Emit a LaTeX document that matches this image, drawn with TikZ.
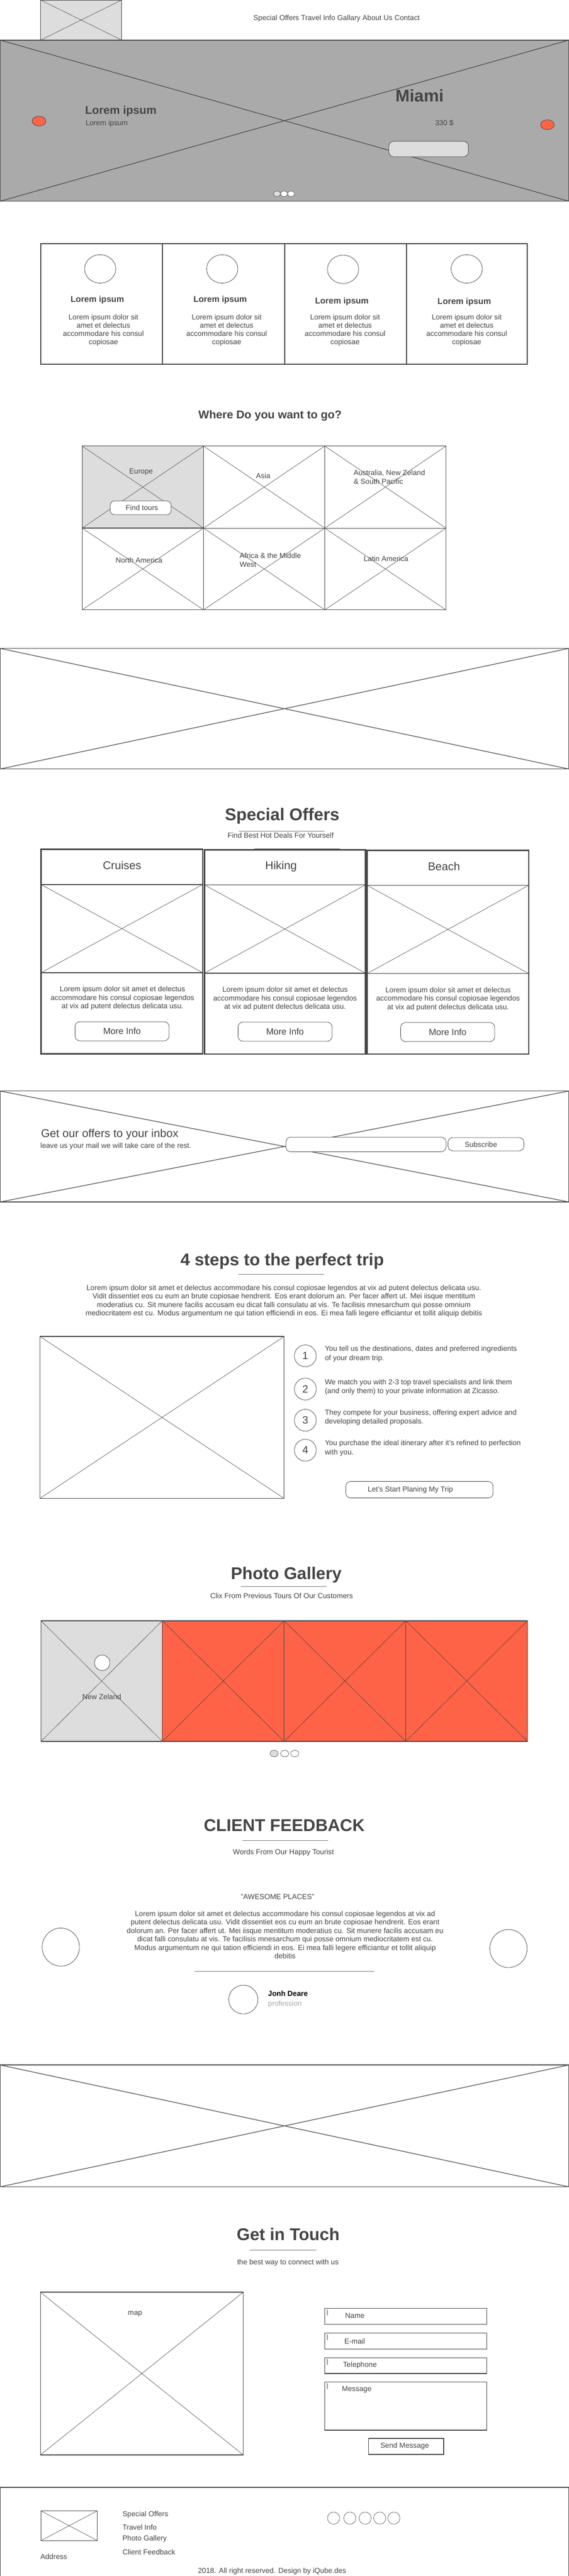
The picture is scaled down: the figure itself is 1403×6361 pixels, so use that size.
\documentclass[tikz,border=0pt]{standalone}
\usepackage{fontspec}
\setmainfont{Liberation Sans}
\definecolor{dk}{HTML}{444444}
\definecolor{lg}{HTML}{DDDDDD}
\definecolor{hg}{HTML}{AAAAAA}
\definecolor{tom}{HTML}{FF6347}
\definecolor{sepc}{HTML}{777777}
\newcommand\fs[2]{\fontsize{#1}{#2}\selectfont}
% crossed image placeholder: {rect opts}{cross opts}{x1}{y1}{x2}{y2}
\newcommand\ximg[6]{\draw[#1] (#3,#4) rectangle (#5,#6); \draw[#2] (#3,#4) -- (#5,#6) (#3,#6) -- (#5,#4);}
\tikzset{
  txt/.style={text=dk, inner sep=0pt, font=\fs{18}{21}},
  ltxt/.style={txt, anchor=west, align=left},
  ctxt/.style={txt, align=center},
  hd/.style={txt, font=\bfseries\fs{42}{50}},
  thinx/.style={draw=dk, line width=0.8pt},
  thickx/.style={draw=dk, line width=1.5pt},
  sepline/.style={draw=sepc, line width=1.2pt},
  btn/.style={draw=dk, fill=white, line width=1pt, rounded corners=12pt},
  ring/.style={draw=dk, fill=white, line width=1pt},
}
\begin{document}
\begin{tikzpicture}[x=1pt,y=-1pt]
\useasboundingbox (0,0) rectangle (1403,6361);
\fill[white] (0,0) rectangle (1403,6361);

% ---------------- header
\ximg{draw=dk, fill=lg, line width=1pt}{thinx}{100}{0}{300}{99}
\node[txt] (nav) at (830,46) {Special Offers Travel Info Gallary About Us Contact};

% ---------------- hero
\ximg{draw=dk, fill=hg, line width=2pt}{thickx}{0}{99}{1403}{497}
\draw[dk, fill=tom, line width=1pt] (96,299) ellipse [x radius=17pt, y radius=12pt];
\draw[dk, fill=tom, line width=1pt] (1350,308) ellipse [x radius=17pt, y radius=12pt];
\node[txt, anchor=west, font=\bfseries\fs{28}{34}] (herotitle) at (210,275) {Lorem ipsum};
\node[txt, anchor=west] (herosub) at (211,305) {Lorem ipsum};
\node[txt, anchor=west, font=\bfseries\fs{42}{50}] (miami) at (975,236) {Miami};
\node[txt, anchor=west] (price) at (1073,304) {330 \$};
\draw[draw=dk, fill=lg, line width=1pt, rounded corners=12pt] (959,349) rectangle (1155,387);
\draw[dk, fill=lg, line width=0.8pt] (683,478.5) ellipse [x radius=8.5pt, y radius=6.7pt];
\draw[dk, fill=white, line width=0.8pt] (700.5,478.5) ellipse [x radius=8.5pt, y radius=6.7pt];
\draw[dk, fill=white, line width=0.8pt] (718,478.5) ellipse [x radius=8.5pt, y radius=6.7pt];

% ---------------- features
\foreach \xa/\xb in {101/401, 401/702, 702/1002, 1002/1300}
  \draw[dk, line width=2.5pt] (\xa,602) rectangle (\xb,900);
\foreach \cx/\cy in {247/664, 548/664, 846/665, 1151/664}
  \draw[ring] (\cx,\cy) ellipse [x radius=38.5pt, y radius=35pt];
\node[txt, font=\bfseries\fs{21}{25}] (f1t) at (240,741) {Lorem ipsum};
\node[txt, font=\bfseries\fs{21}{25}] (f2t) at (543,741) {Lorem ipsum};
\node[txt, font=\bfseries\fs{21}{25}] (f3t) at (843,744) {Lorem ipsum};
\node[txt, font=\bfseries\fs{21}{25}] (f4t) at (1145,746) {Lorem ipsum};
\node[ctxt, font=\fs{18}{20.5}] (f1b) at (255,815) {Lorem ipsum dolor sit\\amet et delectus\\accommodare his consul\\copiosae};
\node[ctxt, font=\fs{18}{20.5}] (f2b) at (559,815) {Lorem ipsum dolor sit\\amet et delectus\\accommodare his consul\\copiosae};
\node[ctxt, font=\fs{18}{20.5}] (f3b) at (851,815) {Lorem ipsum dolor sit\\amet et delectus\\accommodare his consul\\copiosae};
\node[ctxt, font=\fs{18}{20.5}] (f4b) at (1151,815) {Lorem ipsum dolor sit\\amet et delectus\\accommodare his consul\\copiosae};

% ---------------- destinations
\node[txt, font=\bfseries\fs{28}{34}] (where) at (666,1027) {Where Do you want to go?};
\ximg{draw=dk, fill=lg, line width=1.5pt}{thinx}{202.5}{1101.5}{502}{1304}
\ximg{draw=dk, line width=1.2pt}{thinx}{502}{1101.5}{801}{1304}
\ximg{draw=dk, line width=1.2pt}{thinx}{801}{1101.5}{1100}{1304}
\ximg{draw=dk, line width=1.2pt}{thinx}{202.5}{1304}{502}{1506}
\ximg{draw=dk, line width=1.2pt}{thinx}{502}{1304}{801}{1506}
\ximg{draw=dk, line width=1.2pt}{thinx}{801}{1304}{1100}{1506}
\draw[dk, line width=2.5pt] (202.5,1304) -- (502,1304);
\node[txt] (europe) at (348,1166) {Europe};
\draw[btn, rounded corners=10pt] (272,1237) rectangle (422,1271);
\node[txt] (findtours) at (350,1254) {Find tours};
\node[txt] (asia) at (649,1175) {Asia};
\node[ltxt, font=\fs{18}{22}] (australia) at (872,1178) {Australia, New Zeland\\\& South Pacific};
\node[txt] (namerica) at (343,1384) {North America};
\node[ltxt, font=\fs{18}{21}] (africa) at (591,1382.5) {Africa \& the Middle\\West};
\node[txt] (latam) at (952,1379) {Latin America};

% ---------------- banner 2
\ximg{draw=dk, fill=white, line width=2pt}{thickx}{0}{1601}{1403}{1899}

% ---------------- special offers
\node[hd] (sotitle) at (696,2015) {Special Offers};
\draw[sepline] (589,2052) -- (800,2052);
\node[txt] (sosub) at (692,2063) {Find Best Hot Deals For Yourself};
\foreach \xa/\xb/\ya/\yh/\yi/\yb in {101/500/2097/2184/2402/2602, 504/901/2098/2185/2403/2603, 905/1304/2100/2186/2404/2603}{
  \draw[dk, line width=2pt] (\xa,\yh) -- (\xb,\yh) (\xa,\yi) -- (\xb,\yi);
  \draw[thinx] (\xa,\yh) -- (\xb,\yi) (\xa,\yi) -- (\xb,\yh);
  \draw[dk, line width=3.5pt] (\xa,\ya) rectangle (\xb,\yb);
}
\draw[sepc, line width=1.2pt] (627,2096) -- (838,2096);
\node[txt, font=\fs{28}{34}] (cruises) at (301,2137) {Cruises};
\node[txt, font=\fs{28}{34}] (hiking) at (693,2139) {Hiking};
\node[txt, font=\fs{28}{34}] (beach) at (1095,2139) {Beach};
\node[ctxt] (o1b) at (302,2465) {Lorem ipsum dolor sit amet et delectus\\accommodare his consul copiosae legendos\\at vix ad putent delectus delicata usu.};
\node[ctxt] (o2b) at (703,2466) {Lorem ipsum dolor sit amet et delectus\\accommodare his consul copiosae legendos\\at vix ad putent delectus delicata usu.};
\node[ctxt] (o3b) at (1105,2467) {Lorem ipsum dolor sit amet et delectus\\accommodare his consul copiosae legendos\\at vix ad putent delectus delicata usu.};
\draw[btn] (185,2523) rectangle (417,2570);
\draw[btn] (587,2524) rectangle (819,2571);
\draw[btn] (988,2525) rectangle (1220,2572);
\node[txt, font=\fs{22}{26}] (more1) at (301,2546.5) {More Info};
\node[txt, font=\fs{22}{26}] (more2) at (703,2547.5) {More Info};
\node[txt, font=\fs{22}{26}] (more3) at (1104,2548.5) {More Info};

% ---------------- newsletter
\ximg{draw=dk, fill=white, line width=2pt}{thickx}{0}{2694}{1403}{2968}
\node[txt, anchor=west, font=\fs{28}{34}] (nltitle) at (101,2801) {Get our offers to your inbox};
\node[txt, anchor=west] (nlsub) at (99.5,2830) {leave us your mail we will take care of the rest.};
\draw[btn] (705,2808) rectangle (1100,2844);
\draw[btn] (1105,2809) rectangle (1292,2842);
\node[txt] (subscribe) at (1186,2825.5) {Subscribe};

% ---------------- 4 steps
\node[hd] (sttitle) at (696,3114) {4 steps to the perfect trip};
\draw[sepline] (588,3147) -- (799,3147);
\node[ctxt] (stpar) at (700,3212.5) {Lorem ipsum dolor sit amet et delectus accommodare his consul copiosae legendos at vix ad putent delectus delicata usu.\\Vidit dissentiet eos cu eum an brute copiosae hendrerit. Eos erant dolorum an. Per facer affert ut. Mei iisque mentitum\\moderatius cu. Sit munere facilis accusam eu dicat falli consulatu at vis. Te facilisis mnesarchum qui posse omnium\\mediocritatem est cu. Modus argumentum ne qui tation efficiendi in eos. Ei mea falli legere efficiantur et tollit aliquip debitis};
\ximg{draw=dk, line width=1.5pt}{thinx}{98.5}{3300}{700.7}{3700}
\foreach \n/\cy in {1/3348, 2/3430, 3/3507, 4/3581}{
  \draw[ring] (753,\cy) ellipse [x radius=27pt, y radius=27pt];
  \node[txt, font=\fs{26}{30}] (num\n) at (753,\cy) {\n};
}
\node[ltxt, font=\fs{18}{22}] (step1) at (801,3343) {You tell us the destinations, dates and preferred ingredients\\of your dream trip.};
\node[ltxt, font=\fs{18}{22}] (step2) at (801,3425) {We match you with 2-3 top travel specialists and link them\\(and only them) to your private information at Zicasso.};
\node[ltxt, font=\fs{18}{22}] (step3) at (801,3500.5) {They compete for your business, offering expert advice and\\developing detailed proposals.};
\node[ltxt, font=\fs{18}{22}] (step4) at (801,3576) {You purchase the ideal itinerary after it's refined to perfection\\with you.};
\draw[btn] (853,3658) rectangle (1216,3699);
\node[txt] (plan) at (1012,3678.5) {Let's Start Planing My Trip};

% ---------------- gallery
\node[hd] (gatitle) at (706,3889.5) {Photo Gallery};
\draw[sepline] (594,3918) -- (805,3918);
\node[txt] (gasub) at (694.5,3940.5) {Clix From Previous Tours Of Our Customers};
\ximg{draw=dk, fill=lg, line width=1.2pt}{thinx}{101}{4002}{400.5}{4300}
\ximg{draw=dk, fill=tom, line width=1.2pt}{thinx}{400.5}{4002}{700.7}{4300}
\ximg{draw=dk, fill=tom, line width=1.2pt}{thinx}{700.7}{4002}{1000.8}{4300}
\ximg{draw=dk, fill=tom, line width=1.2pt}{thinx}{1000.8}{4002}{1301}{4300}
\draw[dk, line width=2pt] (101,4002) rectangle (1301,4300);
\draw[ring] (252,4106) ellipse [x radius=19pt, y radius=19pt];
\node[txt] (nz) at (251,4189.5) {New Zeland};
\draw[dk, fill=lg, line width=0.8pt] (676,4330) ellipse [x radius=10pt, y radius=8pt];
\draw[ring, line width=0.8pt] (702,4330) ellipse [x radius=10pt, y radius=8pt];
\draw[ring, line width=0.8pt] (727,4330) ellipse [x radius=10pt, y radius=8pt];

% ---------------- client feedback
\node[hd] (cftitle) at (701,4507) {CLIENT FEEDBACK};
\draw[sepline] (598,4545) -- (809,4545);
\node[txt] (cfsub) at (699,4575) {Words From Our Happy Tourist};
\node[txt] (awesome) at (684.5,4684) {"AWESOME PLACES"};
\node[ctxt, font=\fs{18}{21}] (cfpar) at (703,4777.5) {Lorem ipsum dolor sit amet et delectus accommodare his consul copiosae legendos at vix ad\\putent delectus delicata usu. Vidit dissentiet eos cu eum an brute copiosae hendrerit. Eos erant\\dolorum an. Per facer affert ut. Mei iisque mentitum moderatius cu. Sit munere facilis accusam eu\\dicat falli consulatu at vis. Te facilisis mnesarchum qui posse omnium mediocritatem est cu.\\Modus argumentum ne qui tation efficiendi in eos. Ei mea falli legere efficiantur et tollit aliquip\\debitis};
\draw[ring] (150,4808) ellipse [x radius=46pt, y radius=47pt];
\draw[ring] (1254,4811.5) ellipse [x radius=46pt, y radius=47pt];
\draw[sepc, line width=2pt] (479,4868) -- (922,4868);
\draw[ring] (600,4937.5) ellipse [x radius=36pt, y radius=35.5pt];
\node[txt, anchor=west, text=black, font=\bfseries\fs{18}{21}] (jonh) at (661,4923) {Jonh Deare};
\node[txt, anchor=west, text=hg] (prof) at (661,4948) {profession};

% ---------------- banner 3
\ximg{draw=dk, fill=white, line width=2pt}{thickx}{0}{5099}{1403}{5400}

% ---------------- get in touch
\node[hd] (gttitle) at (710.5,5517) {Get in Touch};
\draw[sepline] (616,5556) -- (779.5,5556);
\node[txt] (gtsub) at (710,5587) {the best way to connect with us};
\ximg{draw=dk, line width=1.5pt}{thinx}{99.5}{5660}{600}{6062}
\node[txt] (map) at (333,5714) {map};
\foreach \ya/\yb/\yt/\xt/\lab in {5700/5739/5718/851/Name, 5761.5/5800.7/5782/849/E-mail, 5822/5861/5840/846/Telephone, 5881.7/6001/5900.6/843/Message}{
  \draw[dk, line width=1.5pt] (801,\ya) rectangle (1200.6,\yb);
  \draw[dk, line width=0.8pt] (806.5,\ya+3) -- (806.5,\ya+17);
  \node[txt, anchor=west] at (\xt,\yt) {\lab};
}
\draw[dk, line width=2pt] (909,6021) rectangle (1094,6061);
\node[txt] (send) at (998,6040.5) {Send Message};

% ---------------- footer
\draw[dk, line width=2pt] (0,6142) rectangle (1403,6370);
\ximg{draw=dk, line width=1.5pt}{thinx}{101}{6200}{240}{6273.5}
\node[txt, anchor=west] (address) at (99.5,6313) {Address};
\node[txt, anchor=west] (lk1) at (302,6209.5) {Special Offers};
\node[txt, anchor=west] (lk2) at (302,6241) {Travel Info};
\node[txt, anchor=west] (lk3) at (302,6269) {Photo Gallery};
\node[txt, anchor=west] (lk4) at (302,6301.6) {Client Feedback};
\foreach \cx in {822.6, 862.8, 900.5, 936.5, 971.3}
  \draw[ring, line width=0.8pt] (\cx,6218) ellipse [x radius=15pt, y radius=15pt];
\node[txt] (copy) at (671,6349.5) {2018. All right reserved. Design by iQube.des};
\end{tikzpicture}
\end{document}
